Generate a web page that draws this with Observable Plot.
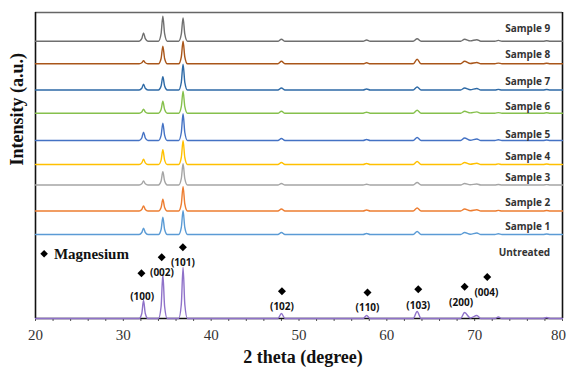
<!DOCTYPE html>
<html>
<head>
<meta charset="utf-8">
<script src="https://cdn.jsdelivr.net/npm/d3@7"></script>
<script src="https://cdn.jsdelivr.net/npm/@observablehq/plot@0.6"></script>
<style>
  html, body { margin: 0; padding: 0; background: #fff; }
  #chart { width: 568px; height: 374px; }
</style>
</head>
<body>
<div id="chart"></div>
<script>
// ---- Data ----
// 2θ sampling points shared by all patterns
const twoTheta = [20, 31.8, 32.1, 32.3, 32.5, 32.8, 34.0, 34.3, 34.5, 34.7, 35.0, 36.3, 36.6, 36.8, 37.0, 37.3,
  47.6, 48.0, 48.4, 57.3, 57.7, 58.1, 63.0, 63.45, 63.9, 68.4, 68.85, 69.5, 70.25, 70.7, 72.3, 72.7, 73.1, 77.8, 78.2, 78.6, 80];

const seriesNames = ["Untreated", "Sample 1", "Sample 2", "Sample 3", "Sample 4", "Sample 5", "Sample 6", "Sample 7", "Sample 8", "Sample 9"];

// vertical stacking offsets of each pattern (a.u.)
const stackOffsets = [0, 84, 107.5, 133.5, 154, 178, 205.3, 228.5, 254.7, 277.3];

// intensities above each pattern's baseline (a.u.), one per twoTheta point
const untreated = [0, 0, 5, 18, 5, 0, 0, 12, 44, 12, 0, 0, 14, 51, 14, 0, 0, 5, 0, 0, 3, 0, 0, 7, 0, 0, 6, 0.5, 3, 0, 0, 1.5, 0, 0, 1, 0, 0];
const sample1 = [0, 0, 2, 6.3, 2, 0, 0, 5, 17.3, 5, 0, 0, 7, 23.7, 7, 0, 0, 2, 0, 0, 1, 0, 0, 3, 0, 0, 2, 0.3, 1.5, 0, 0, 0.7, 0, 0, 0.5, 0, 0];
const sample2 = [0, 0, 1.5, 5, 1.5, 0, 0, 3.5, 11.7, 3.5, 0, 0, 7, 24.3, 7, 0, 0, 2, 0, 0, 1, 0, 0, 3, 0, 0, 2, 0.3, 1.3, 0, 0, 0.6, 0, 0, 0.5, 0, 0];
const sample3 = [0, 0, 1.2, 4, 1.2, 0, 0, 4, 13.3, 4, 0, 0, 6.4, 21.3, 6.4, 0, 0, 1.5, 0, 0, 0.8, 0, 0, 2.5, 0, 0, 1.5, 0.2, 1, 0, 0, 0.5, 0, 0, 0.4, 0, 0];
const sample4 = [0, 0, 1.6, 5.3, 1.6, 0, 0, 4.4, 14.7, 4.4, 0, 0, 7, 23.7, 7, 0, 0, 2, 0, 0, 1, 0, 0, 3, 0, 0, 2, 0.3, 1.3, 0, 0, 0.6, 0, 0, 0.5, 0, 0];
const sample5 = [0, 0, 2.5, 8.3, 2.5, 0, 0, 5.2, 17.3, 5.2, 0, 0, 8, 26.7, 8, 0, 0, 2, 0, 0, 1, 0, 0, 3, 0, 0, 2.5, 0.3, 1.5, 0, 0, 0.7, 0, 0, 0.5, 0, 0];
const sample6 = [0, 0, 1.2, 4, 1.2, 0, 0, 3.6, 12, 3.6, 0, 0, 6.6, 22, 6.6, 0, 0, 2, 0, 0, 1, 0, 0, 3, 0, 0, 2, 0.3, 1.3, 0, 0, 0.6, 0, 0, 0.5, 0, 0];
const sample7 = [0, 0, 1.7, 5.7, 1.7, 0, 0, 4, 13.3, 4, 0, 0, 7.7, 25.7, 7.7, 0, 0, 2, 0, 0, 1, 0, 0, 3, 0, 0, 2, 0.3, 1.5, 0, 0, 0.6, 0, 0, 0.5, 0, 0];
const sample8 = [0, 0, 1, 3, 1, 0, 0, 5.3, 17.7, 5.3, 0, 0, 6.8, 22.7, 6.8, 0, 0, 2.5, 0, 0, 1, 0, 0, 4.5, 0, 0, 2.5, 0.3, 1.3, 0, 0, 0.7, 0, 0, 0.5, 0, 0];
const sample9 = [0, 0, 2.5, 8.3, 2.5, 0, 0, 7.5, 25, 7.5, 0, 0, 7, 23.3, 7, 0, 0, 2, 0, 0, 1.2, 0, 0, 2.5, 0, 0, 2, 0.3, 1.5, 0, 0, 0.8, 0, 0, 0.5, 0, 0];
const intensities = [untreated, sample1, sample2, sample3, sample4, sample5, sample6, sample7, sample8, sample9];

// pattern label heights (a.u.)
const labelHeights = [65.7, 92, 115.7, 140.3, 161.3, 183.7, 211.3, 237, 264, 289.7];

// Magnesium reflections: Miller indices, marker position and label position (2θ, a.u.)
const hklNames = ["(100)", "(002)", "(101)", "(102)", "(110)", "(103)", "(200)", "(004)"];
const markerTheta = [32.06, 34.37, 36.78, 48.06, 57.8, 63.58, 68.86, 71.43];
const markerHeight = [45.3, 61.3, 71.3, 27.3, 26, 29.3, 31.8, 41.5];
const hklLabelTheta = [32.14, 34.4, 36.78, 48.06, 57.8, 63.58, 68.45, 71.34];
const hklLabelHeight = [22, 45.3, 55.3, 11.3, 10.3, 13, 15.3, 25.7];

const xTickValues = [20, 30, 40, 50, 60, 70];
const xLastTick = [80];

// ---- Styles ----
const seriesColors = ["#8f72c9", "#5b9bd5", "#ed7d31", "#a5a5a5", "#ffc000", "#4472c4", "#86c04c", "#2e6aa6", "#a9561a", "#6f6f6f"];

// ---- Build tables ----
const rows = [];
seriesNames.forEach((name, s) => {
  twoTheta.forEach((t, i) => rows.push({series: name, x: t, y: stackOffsets[s] + intensities[s][i]}));
});
const labels = seriesNames.map((name, s) => ({name, y: labelHeights[s]}));
const hkl = hklNames.map((h, i) => ({h, mx: markerTheta[i], my: markerHeight[i], lx: hklLabelTheta[i], ly: hklLabelHeight[i]}));

const serif = "'Liberation Serif', 'Times New Roman', serif";
const sans = "'Open Sans', 'Noto Sans', sans-serif";

const chart = Plot.plot({
  width: 568,
  height: 374,
  marginLeft: 35,
  marginRight: 6,
  marginTop: 12,
  marginBottom: 56,
  style: {background: "#fff", fontFamily: serif},
  x: {domain: [20, 80]},
  y: {domain: [0, 306], axis: null},
  color: {domain: seriesNames, range: seriesColors},
  marks: [
    Plot.axisX({ticks: d3.range(20, 81, 2), tickSize: 3, tickFormat: () => "", stroke: "#555", label: null}),
    Plot.axisX({ticks: xTickValues, tickSize: 0, tickPadding: 11, fontSize: 15, fontFamily: serif, fill: "#333", label: null}),
    Plot.axisX({ticks: xLastTick, tickSize: 0, tickPadding: 11, dx: -4, fontSize: 15, fontFamily: serif, fill: "#333", label: null}),
    Plot.ruleY([306], {stroke: "#666", strokeWidth: 1.3}),
    Plot.ruleX([20], {stroke: "#111", strokeWidth: 1.6}),
    Plot.ruleX([80], {stroke: "#111", strokeWidth: 1.6}),
    Plot.ruleY([0], {stroke: "#111", strokeWidth: 1.6}),
    Plot.line(rows, {x: "x", y: "y", z: "series", stroke: "series", strokeWidth: 1.4, curve: "monotone-x"}),
    Plot.text(labels, {x: 78.6, y: "y", text: "name", textAnchor: "end", fontFamily: sans, fontWeight: "bold", fontSize: 10, fill: "#333"}),
    Plot.dot(hkl, {x: "mx", y: "my", symbol: "diamond2", r: 3.6, fill: "#000", stroke: null}),
    Plot.text(hkl, {x: "lx", y: "ly", text: "h", fontFamily: sans, fontWeight: "bold", fontSize: 10, fill: "#111"}),
    Plot.dot([{x: 20.98, y: 64.7}], {x: "x", y: "y", symbol: "diamond2", r: 3.4, fill: "#000", stroke: null}),
    Plot.text(["Magnesium"], {x: 22.1, y: 64.2, text: d => d, textAnchor: "start", fontFamily: serif, fontWeight: "bold", fontSize: 15, fill: "#111"}),
    Plot.text(["2 theta (degree)"], {frameAnchor: "bottom", dx: 4, dy: 44, text: d => d, fontFamily: serif, fontWeight: "bold", fontSize: 18, fill: "#111"}),
    Plot.text(["Intensity (a.u.)"], {frameAnchor: "left", dx: -18, text: d => d, rotate: -90, fontFamily: serif, fontWeight: "bold", fontSize: 18, fill: "#111"})
  ]
});
document.getElementById("chart").appendChild(chart);
</script>
</body>
</html>
